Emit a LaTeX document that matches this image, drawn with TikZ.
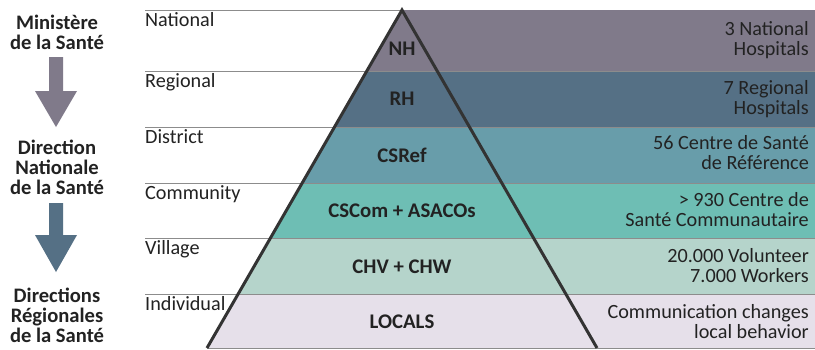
\documentclass[tikz,border=0pt]{standalone}
\usepackage{fontspec}
\setmainfont{Carlito}
\definecolor{cNat}{HTML}{807A8A}
\definecolor{cReg}{HTML}{557085}
\definecolor{cDis}{HTML}{689DAA}
\definecolor{cCom}{HTML}{6EBEB4}
\definecolor{cVil}{HTML}{B5D4CB}
\definecolor{cInd}{HTML}{E6E0EA}
\definecolor{txt}{HTML}{222222}
\definecolor{tri}{HTML}{333333}
\definecolor{sepc}{HTML}{8C8C8C}
\begin{document}
\begin{tikzpicture}[x=1pt,y=-1pt,
  base/.style={inner sep=0pt,text=txt,font=\fontsize{20.2}{20}\selectfont},
  ctr/.style={base,font=\fontsize{20.8}{20}\selectfont\bfseries},
  rt/.style={base,align=right,anchor=east},
  lvl/.style={base,anchor=base west},
  minis/.style={base,align=center,font=\fontsize{20.6}{20}\selectfont\bfseries},
  sep/.style={draw=sepc,line width=0.9pt},
  triline/.style={draw=tri,line width=3pt,line join=miter}]
\useasboundingbox (0,0) rectangle (815,349);
\fill[white] (0,0) rectangle (815,349);
% bands
\fill[cNat] (402,10) -- (815,10) -- (815,71) -- (366.8,71) -- cycle;
\fill[cReg] (366.8,71) -- (815,71) -- (815,127) -- (334.5,127) -- cycle;
\fill[cDis] (334.5,127) -- (815,127) -- (815,183) -- (302.2,183) -- cycle;
\fill[cCom] (302.2,183) -- (815,183) -- (815,238) -- (270.5,238) -- cycle;
\fill[cVil] (270.5,238) -- (815,238) -- (815,294) -- (238.2,294) -- cycle;
\fill[cInd] (238.2,294) -- (815,294) -- (815,348) -- (207,348) -- cycle;
% separators
\draw[sep] (145,10) -- (402,10);
\foreach \yy in {71,127,183,238,294} \draw[sep] (145,\yy) -- (815,\yy);
\draw[sep] (207,348) -- (815,348);
% triangle
\coordinate (apex) at (402,10);
\coordinate (bl) at (207,348);
\coordinate (br) at (597,348);
\draw[triline] (bl) -- (apex) -- (br);
% level labels
\node[lvl] (lnat) at (145,26) {National};
\node[lvl] (lreg) at (145,87) {Regional};
\node[lvl] (ldis) at (145,143) {District};
\node[lvl] (lcom) at (145,199) {Community};
\node[lvl] (lvil) at (145,254) {Village};
\node[lvl] (lind) at (145,310) {Individual};
% centre labels
\node[ctr] (nh) at (402,49) {NH};
\node[ctr] (rh) at (402,99) {RH};
\node[ctr] (csref) at (402,155) {CSRef};
\node[ctr] (cscom) at (402,211) {CSCom + ASACOs};
\node[ctr] (chv) at (402,267) {CHV + CHW};
\node[ctr] (loc) at (402,322) {LOCALS};
% right labels
\node[rt] (rnat) at (809,40) {3 National\\Hospitals};
\node[rt] (rreg) at (809,99.5) {7 Regional\\Hospitals};
\node[rt] (rdis) at (809,153) {56 Centre de Santé\\de Référence};
\node[rt] (rcom) at (809,210) {> 930 Centre de\\Santé Communautaire};
\node[rt] (rvil) at (809,265.5) {20.000 Volunteer\\7.000 Workers};
\node[rt] (rind) at (809,322) {Communication changes\\local behavior};
% left column
\node[minis] (m1) at (57,32.5) {Ministère\\de la Santé};
\node[minis] (m2) at (57,167) {Direction\\Nationale\\de la Santé};
\node[minis] (m3) at (57,315) {Directions\\Régionales\\de la Santé};
\fill[cNat] (49,57) -- (63,57) -- (63,91) -- (77,91) -- (56,127) -- (35,91) -- (49,91) -- cycle;
\fill[cReg] (49,203) -- (63,203) -- (63,235) -- (77,235) -- (56,272) -- (35,235) -- (49,235) -- cycle;
\end{tikzpicture}
\end{document}
